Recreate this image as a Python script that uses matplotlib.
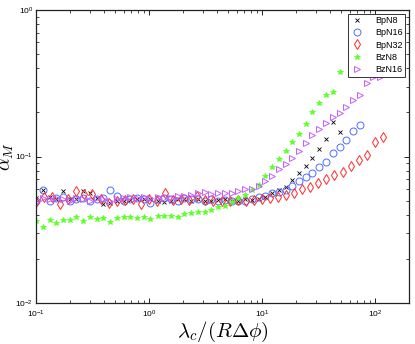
import numpy as np
import matplotlib
matplotlib.use('Agg')
import matplotlib.pyplot as plt

# x grids
x_a = [0.100, 0.115, 0.132, 0.151, 0.173, 0.199, 0.228, 0.262, 0.300, 0.344,
       0.395, 0.453, 0.520, 0.597, 0.685, 0.786, 0.901, 1.03, 1.19, 1.36,
       1.56, 1.79, 2.06, 2.36, 2.71, 3.11, 3.57, 4.09, 4.69, 5.39,
       6.18, 7.09, 8.14, 9.33, 10.7, 12.3, 14.1, 16.2, 18.6, 21.3,
       24.4, 28.0, 32.2, 36.9, 42.3, 48.6, 55.8, 64.0, 73.4, 84.2,
       96.6, 110.8]
x_b = [0.100, 0.118, 0.139, 0.164, 0.193, 0.228, 0.268, 0.316, 0.373, 0.439,
       0.518, 0.610, 0.719, 0.848, 1.00, 1.18, 1.39, 1.64, 1.93, 2.27,
       2.68, 3.16, 3.72, 4.39, 5.17, 6.10, 7.18, 8.47, 9.98, 11.8,
       13.9, 16.3, 19.3, 22.7, 26.8, 31.6, 37.2, 43.8, 51.7, 60.9,
       71.8, 84.6, 99.7, 117.5]

bpn8 = [0.052, 0.059, 0.053, 0.051, 0.058, 0.051, 0.051, 0.058, 0.0565, 0.052,
        0.0475, 0.048, 0.0497, 0.050, 0.0505, 0.051, 0.051, 0.051, 0.0497, 0.049,
        0.050, 0.051, 0.051, 0.050, 0.051, 0.050, 0.050, 0.0505, 0.051, 0.050,
        0.050, 0.051, 0.0505, 0.051, 0.053, 0.0565, 0.059, 0.0615, 0.069, 0.077,
        0.086, 0.0977, 0.112, 0.131, 0.172, 0.147]
bpn16 = [0.050, 0.059, 0.050, 0.052, 0.053, 0.050, 0.051, 0.052, 0.050, 0.051,
         0.052, 0.059, 0.0537, 0.0497, 0.051, 0.052, 0.051, 0.048, 0.051, 0.052,
         0.051, 0.050, 0.052, 0.051, 0.051, 0.050, 0.051, 0.050, 0.0505, 0.050,
         0.0497, 0.050, 0.051, 0.053, 0.0537, 0.0565, 0.0576, 0.059, 0.063, 0.068,
         0.0725, 0.077, 0.0848, 0.0917, 0.106, 0.116, 0.130, 0.149, 0.164]
bpn32 = [0.049, 0.053, 0.053, 0.0475, 0.051, 0.058, 0.0555, 0.0555, 0.051, 0.0482,
         0.050, 0.0505, 0.051, 0.0475, 0.051, 0.0497, 0.0565, 0.0505, 0.051, 0.0505,
         0.0537, 0.0505, 0.050, 0.0497, 0.0497, 0.0505, 0.0497, 0.0505, 0.051, 0.052,
         0.0529, 0.0546, 0.0565, 0.0597, 0.0615, 0.066, 0.070, 0.0748, 0.078, 0.086,
         0.0946, 0.102, 0.126, 0.136]
bzn8 = [0.0363, 0.033, 0.0369, 0.0352, 0.0369, 0.0369, 0.0387, 0.0363, 0.0387, 0.0375,
        0.0381, 0.0357, 0.0381, 0.0387, 0.0387, 0.0381, 0.0387, 0.0375, 0.0393, 0.039,
        0.0393, 0.0387, 0.0405, 0.0412, 0.0418, 0.0418, 0.0431, 0.0452, 0.046, 0.049,
        0.052, 0.0546, 0.059, 0.0639, 0.0736, 0.0848, 0.096, 0.109, 0.126, 0.142,
        0.166, 0.201, 0.232, 0.263, 0.275, 0.377]
bzn16 = [0.049, 0.052, 0.051, 0.052, 0.051, 0.050, 0.052, 0.051, 0.050, 0.052,
         0.051, 0.050, 0.051, 0.052, 0.053, 0.052, 0.053, 0.052, 0.053, 0.052,
         0.052, 0.0537, 0.0537, 0.0546, 0.0565, 0.057, 0.0555, 0.0565, 0.0565, 0.0565,
         0.058, 0.0597, 0.0605, 0.063, 0.068, 0.0736, 0.082, 0.0889, 0.0977, 0.109,
         0.124, 0.140, 0.155, 0.169, 0.186, 0.198, 0.218, 0.243, 0.263, 0.318,
         0.349, 0.349]

plt.rcParams['font.family'] = ['Liberation Sans', 'DejaVu Sans']
plt.rcParams['mathtext.fontset'] = 'custom'
plt.rcParams['mathtext.rm'] = 'Liberation Sans'
plt.rcParams['mathtext.it'] = 'Liberation Sans:italic'

fig = plt.figure(figsize=(4.15, 3.44), dpi=100)
ax = fig.add_axes([0.0867, 0.119, 0.8988, 0.852])

ax.plot(x_a[:len(bpn8)], bpn8, 'x', color='black', ms=3.5, mew=0.6, label='BpN8')
ax.plot(x_a[:len(bpn16)], bpn16, 'o', mfc='none', mec='#4f6cff', ms=5, mew=0.7, label='BpN16')
ax.plot(x_b, bpn32, 'd', mfc='none', mec='#ff2a2a', ms=5, mew=0.7, label='BpN32')
ax.plot(x_a[:len(bzn8)], bzn8, '*', color='#5cff2a', ms=4, mew=0.6, label='BzN8')
ax.plot(x_a[:len(bzn16)], bzn16, '>', mfc='none', mec='#c45cff', ms=5, mew=0.7, label='BzN16')

ax.set_xscale('log')
ax.set_yscale('log')
ax.set_xlim(0.1, 200)
ax.set_ylim(0.01, 1)

ax.tick_params(which='both', direction='in', top=True, right=True, labelsize=6)
ax.tick_params(axis='x', pad=4)
ax.tick_params(axis='y', pad=2)
ax.tick_params(which='major', length=3.5, width=0.6)
ax.tick_params(which='minor', length=2, width=0.5)
for s in ax.spines.values():
    s.set_linewidth(0.9)
    s.set_color('#222222')

ax.set_xlabel(r'$\lambda_c/(R\Delta\phi)$', fontsize=15, math_fontfamily='cm')
ax.set_ylabel(r'$\alpha_M$', fontsize=14, math_fontfamily='cm')
ax.xaxis.set_label_coords(0.5, -0.056)
ax.yaxis.set_label_coords(-0.053, 0.5)

leg = ax.legend(loc='upper right', fontsize=6.5, fancybox=False, framealpha=1,
                edgecolor='#333333', handlelength=1.5, borderpad=0.3,
                labelspacing=0.35, handletextpad=1.2, borderaxespad=0.4)
leg.get_frame().set_linewidth(0.7)

fig.savefig('out.png', dpi=100)
